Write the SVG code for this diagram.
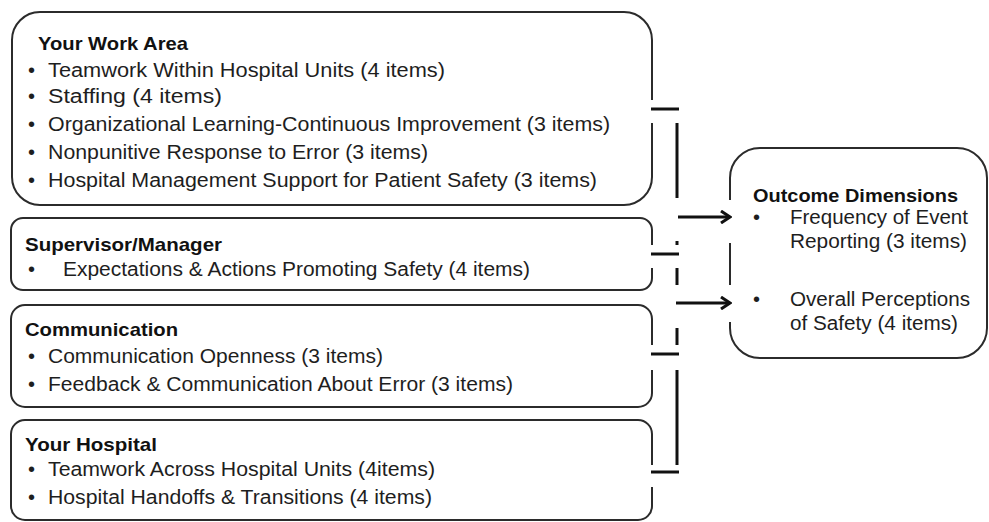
<svg xmlns="http://www.w3.org/2000/svg" width="989" height="522" viewBox="0 0 989 522">
  <defs>
    <style>
      .box { fill: #ffffff; stroke: #2b2b2b; stroke-width: 2; }
      .t { font-family: "Liberation Sans", Arial, sans-serif; font-size: 20px; fill: #1e1e1e; }
      .h { font-family: "Liberation Sans", Arial, sans-serif; font-size: 19px; font-weight: bold; fill: #111111; }
      .b { font-family: "Liberation Sans", Arial, sans-serif; font-size: 20px; fill: #1e1e1e; }
      .c { stroke: #111111; stroke-width: 3; fill: none; }
      .a { stroke: #111111; stroke-width: 3.2; fill: none; }
    </style>
    <marker id="arr" viewBox="0 0 12 14" refX="10" refY="7" markerWidth="12" markerHeight="14" markerUnits="userSpaceOnUse" orient="auto">
      <path d="M1,1 L10,7 L1,13" fill="none" stroke="#111111" stroke-width="3"/>
    </marker>
  </defs>
  <rect width="989" height="522" fill="#ffffff"/>

  <g id="work-area">
    <path class="box" d="M652,123 V177 A28,28 0 0 1 624,205 H40 A28,28 0 0 1 12,177 V40 A28,28 0 0 1 40,12 H624 A28,28 0 0 1 652,40 V100"/>
    <text class="h" x="38" y="50" textLength="150" lengthAdjust="spacingAndGlyphs">Your Work Area</text>
    <text class="b" x="28" y="77">•</text>
    <text class="t" x="48" y="77" textLength="397" lengthAdjust="spacingAndGlyphs">Teamwork Within Hospital Units (4 items)</text>
    <text class="b" x="28" y="103">•</text>
    <text class="t" x="48" y="103" textLength="174" lengthAdjust="spacingAndGlyphs">Staffing (4 items)</text>
    <text class="b" x="28" y="131">•</text>
    <text class="t" x="48" y="131" textLength="562" lengthAdjust="spacingAndGlyphs">Organizational Learning-Continuous Improvement (3 items)</text>
    <text class="b" x="28" y="159">•</text>
    <text class="t" x="48" y="159" textLength="380" lengthAdjust="spacingAndGlyphs">Nonpunitive Response to Error (3 items)</text>
    <text class="b" x="28" y="187">•</text>
    <text class="t" x="48" y="187" textLength="549" lengthAdjust="spacingAndGlyphs">Hospital Management Support for Patient Safety (3 items)</text>
  </g>

  <g id="supervisor">
    <path class="box" d="M652,268 V278 A12,12 0 0 1 640,290 H23 A12,12 0 0 1 11,278 V230 A12,12 0 0 1 23,218 H640 A12,12 0 0 1 652,230 V245"/>
    <text class="h" x="25" y="251" textLength="197" lengthAdjust="spacingAndGlyphs">Supervisor/Manager</text>
    <text class="b" x="28" y="276">•</text>
    <text class="t" x="63" y="276" textLength="467" lengthAdjust="spacingAndGlyphs">Expectations &amp; Actions Promoting Safety (4 items)</text>
  </g>

  <g id="communication">
    <path class="box" d="M652,370 V393 A14,14 0 0 1 638,407 H25 A14,14 0 0 1 11,393 V319 A14,14 0 0 1 25,305 H638 A14,14 0 0 1 652,319 V345"/>
    <text class="h" x="25" y="336" textLength="153" lengthAdjust="spacingAndGlyphs">Communication</text>
    <text class="b" x="28" y="363">•</text>
    <text class="t" x="48" y="363" textLength="335" lengthAdjust="spacingAndGlyphs">Communication Openness (3 items)</text>
    <text class="b" x="28" y="391">•</text>
    <text class="t" x="48" y="391" textLength="465" lengthAdjust="spacingAndGlyphs">Feedback &amp; Communication About Error (3 items)</text>
  </g>

  <g id="hospital">
    <path class="box" d="M652,487 V506 A14,14 0 0 1 638,520 H25 A14,14 0 0 1 11,506 V434 A14,14 0 0 1 25,420 H638 A14,14 0 0 1 652,434 V465"/>
    <text class="h" x="25" y="451" textLength="132" lengthAdjust="spacingAndGlyphs">Your Hospital</text>
    <text class="b" x="28" y="476">•</text>
    <text class="t" x="48" y="476" textLength="387" lengthAdjust="spacingAndGlyphs">Teamwork Across Hospital Units (4items)</text>
    <text class="b" x="28" y="504">•</text>
    <text class="t" x="48" y="504" textLength="384" lengthAdjust="spacingAndGlyphs">Hospital Handoffs &amp; Transitions (4 items)</text>
  </g>

  <g id="outcome">
    <path class="box" d="M730,200 V178 A30,30 0 0 1 760,148 H957 A30,30 0 0 1 987,178 V328 A30,30 0 0 1 957,358 H760 A30,30 0 0 1 730,328 V322"/>
    <path class="box" d="M730,243 V285"/>
    <text class="h" x="753" y="202" textLength="205" lengthAdjust="spacingAndGlyphs">Outcome Dimensions</text>
    <text class="b" x="753" y="224">•</text>
    <text class="t" x="790" y="224" textLength="178" lengthAdjust="spacingAndGlyphs">Frequency of Event</text>
    <text class="t" x="790" y="248" textLength="177" lengthAdjust="spacingAndGlyphs">Reporting (3 items)</text>
    <text class="b" x="753" y="306">•</text>
    <text class="t" x="790" y="306" textLength="180" lengthAdjust="spacingAndGlyphs">Overall Perceptions</text>
    <text class="t" x="790" y="330" textLength="168" lengthAdjust="spacingAndGlyphs">of Safety (4 items)</text>
  </g>

  <g id="connectors">
    <line class="c" x1="651" y1="109" x2="679" y2="109"/>
    <line class="c" x1="651" y1="254" x2="679" y2="254"/>
    <line class="c" x1="651" y1="354" x2="679" y2="354"/>
    <line class="c" x1="651" y1="472" x2="679" y2="472"/>
    <line class="c" x1="677" y1="123" x2="677" y2="198"/>
    <line class="c" x1="677" y1="241" x2="677" y2="245"/>
    <line class="c" x1="677" y1="268" x2="677" y2="285"/>
    <line class="c" x1="677" y1="328" x2="677" y2="345"/>
    <line class="c" x1="677" y1="370" x2="677" y2="465"/>
    <line class="a" x1="678" y1="217" x2="730" y2="217" marker-end="url(#arr)"/>
    <line class="a" x1="676" y1="303" x2="730" y2="303" marker-end="url(#arr)"/>
  </g>
</svg>
